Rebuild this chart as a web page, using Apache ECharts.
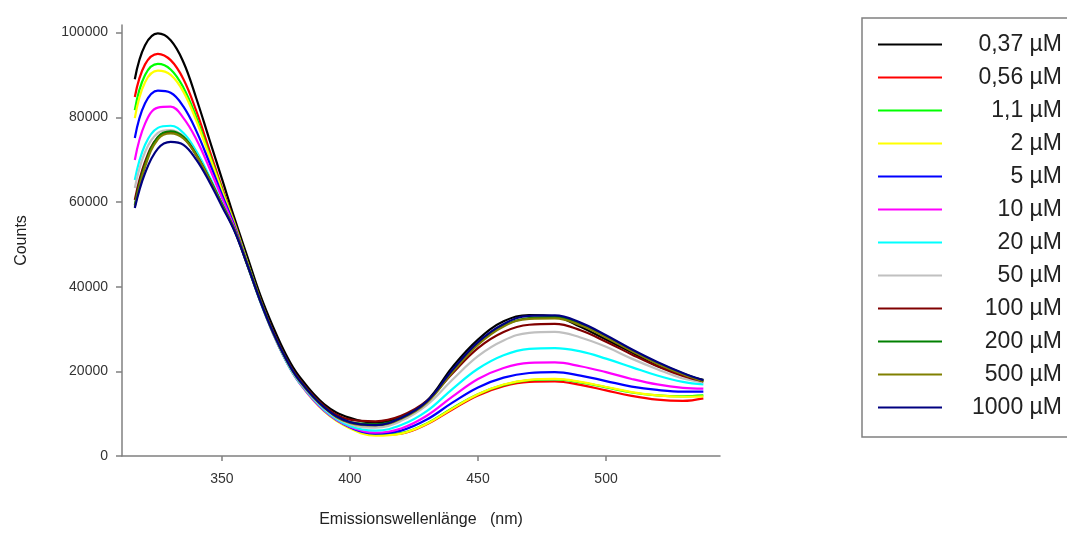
<!DOCTYPE html>
<html>
<head>
<meta charset="utf-8">
<script src="https://cdn.jsdelivr.net/npm/echarts@6/dist/echarts.min.js"></script>
<style>
  html, body { margin: 0; padding: 0; background: #fff; }
  #chart { width: 1067px; height: 533px; }
</style>
</head>
<body>
<div id="chart"></div>
<script>
// Emission spectra, counts per wavelength (nm) for each concentration
const wavelengths = [316, 320, 325, 330, 335, 340, 345, 350, 355, 360, 365, 370, 375, 380, 390, 400, 410, 420, 430, 440, 450, 460, 470, 480, 490, 500, 510, 520, 530, 538];

const names = ["0,37 µM", "0,56 µM", "1,1 µM", "2 µM", "5 µM", "10 µM", "20 µM", "50 µM", "100 µM", "200 µM", "500 µM", "1000 µM"];
const colors = ["#000000", "#ff0000", "#00ff00", "#ffff00", "#0000ff", "#ff00ff", "#00ffff", "#c0c0c0", "#800000", "#008000", "#808000", "#000080"];

const c037 = [89000, 97000, 99800, 98200, 93000, 84500, 75000, 65500, 56000, 47000, 38000, 30500, 24000, 19000, 12200, 9000, 7900, 9200, 13000, 21000, 27500, 31800, 33300, 33000, 30500, 27500, 24500, 21300, 19200, 18000];
const c056 = [84800, 92500, 95000, 93500, 89000, 81500, 72500, 63500, 55000, 45800, 37000, 29300, 22800, 17800, 10800, 6800, 5000, 5300, 7500, 11000, 14300, 16500, 17500, 17600, 16800, 15500, 14200, 13300, 13000, 13600];
const c11 = [81700, 90000, 92600, 91300, 87000, 80000, 71500, 63000, 54800, 45700, 36900, 29200, 22700, 17700, 10700, 6700, 5000, 5400, 7700, 11300, 14600, 16800, 17900, 18100, 17400, 16200, 15000, 14300, 14100, 14300];
const c2 = [79800, 88300, 91000, 90000, 86000, 79200, 71000, 62700, 54600, 45500, 36700, 29000, 22500, 17500, 10500, 6500, 4800, 5300, 7600, 11200, 14600, 16900, 18000, 18200, 17500, 16300, 15100, 14300, 14000, 14100];
const c5 = [75100, 83300, 86300, 85800, 82500, 76800, 69500, 61800, 54200, 45300, 36600, 29000, 22600, 17600, 10700, 6800, 5300, 6000, 8600, 12600, 16200, 18500, 19600, 19800, 19000, 17700, 16400, 15600, 15200, 15200];
const c10 = [69900, 78500, 82300, 82500, 79800, 74800, 68200, 61000, 53800, 45100, 36500, 28900, 22500, 17500, 10700, 6900, 5500, 6500, 9500, 14000, 18200, 20800, 22000, 22100, 21200, 19800, 18200, 16900, 16100, 15900];
const c20 = [65200, 73500, 77500, 78000, 76300, 72000, 66200, 59800, 53300, 44900, 36400, 28900, 22500, 17600, 10900, 7100, 6000, 7300, 10600, 15800, 20600, 23800, 25300, 25500, 24700, 23000, 21000, 19000, 17500, 16900];
const c50 = [63300, 71800, 76300, 77000, 75500, 71300, 65700, 59500, 53200, 44900, 36500, 29000, 22700, 17800, 11200, 7500, 6700, 8300, 12000, 18000, 23600, 27300, 29100, 29300, 28000, 25800, 23000, 20500, 18300, 17400];
const c100 = [60500, 69500, 75300, 76500, 75200, 71100, 65600, 59500, 53300, 45100, 36800, 29400, 23200, 18300, 11800, 8600, 8200, 9500, 13000, 19500, 25500, 29300, 31000, 31200, 29700, 27000, 24000, 21200, 18900, 17600];
const c200 = [59300, 68800, 75300, 76700, 75400, 71200, 65700, 59500, 53300, 45100, 36700, 29200, 23000, 18100, 11500, 8000, 7500, 9000, 12800, 20000, 26500, 30800, 32600, 32800, 31200, 28200, 25000, 22000, 19500, 17800];
const c500 = [58900, 68300, 74800, 76200, 75000, 71000, 65500, 59300, 53200, 45000, 36600, 29100, 22900, 18000, 11400, 7800, 7200, 8800, 12600, 19800, 26300, 30600, 32400, 32500, 30900, 28000, 24800, 21800, 19300, 17600];
const c1000 = [58600, 66800, 72600, 74200, 73500, 70000, 64900, 59000, 53000, 45000, 36600, 29200, 23000, 18100, 11500, 8000, 7300, 9000, 12900, 20300, 26900, 31200, 33100, 33200, 31500, 28500, 25200, 22200, 19600, 17900];

const allSeries = [c037, c056, c11, c2, c5, c10, c20, c50, c100, c200, c500, c1000];

const xTicks = [350, 400, 450, 500];
const yTicks = [0, 20000, 40000, 60000, 80000, 100000];

const FONT = "'Liberation Sans', Arial, sans-serif";

const chart = echarts.init(document.getElementById("chart"), null, { renderer: "canvas" });

const series = allSeries.map((vals, i) => ({
  name: names[i],
  type: "line",
  smooth: 0.4,
  symbol: "none",
  color: colors[i],
  lineStyle: { width: 2.2, color: colors[i] },
  data: vals.map((v, j) => [wavelengths[j], v]),
}));

chart.setOption({
  animation: false,
  backgroundColor: "#fff",
  grid: { left: 122, right: 347, top: 25, bottom: 76 },
  xAxis: {
    type: "value",
    min: 311,
    max: 544.5,
    name: "Emissionswellenlänge   (nm)",
    nameLocation: "middle",
    nameGap: 56,
    nameTextStyle: { fontFamily: FONT, fontSize: 16, color: "#222" },
    axisLine: { lineStyle: { color: "#808080", width: 1.5 } },
    axisTick: { show: true, length: 5, customValues: xTicks, lineStyle: { color: "#808080", width: 1.5 } },
    axisLabel: { customValues: xTicks, margin: 16, fontFamily: FONT, fontSize: 14, color: "#333" },
    splitLine: { show: false },
  },
  yAxis: {
    type: "value",
    min: 0,
    max: 101800,
    name: "Counts",
    nameLocation: "middle",
    nameRotate: 90,
    nameGap: 92,
    nameTextStyle: { fontFamily: FONT, fontSize: 16, color: "#222" },
    axisLine: { show: true, lineStyle: { color: "#808080", width: 1.5 } },
    axisTick: { show: true, length: 6, customValues: yTicks, lineStyle: { color: "#808080", width: 1.5 } },
    axisLabel: { customValues: yTicks, formatter: v => String(v), margin: 14, fontFamily: FONT, fontSize: 14, color: "#333" },
    splitLine: { show: false },
  },
  legend: {
    orient: "vertical",
    left: 862,
    top: 18,
    padding: [15, 40, 18, 16],
    icon: "rect",
    itemWidth: 64,
    itemHeight: 2.2,
    itemGap: 10,
    borderColor: "#808080",
    borderWidth: 1.5,
    data: names,
    formatter: name => "{a|" + name + "}",
    textStyle: {
      rich: {
        a: { width: 115, align: "right", fontFamily: FONT, fontSize: 23, lineHeight: 24, color: "#222" },
      },
    },
  },
  series,
});
</script>
</body>
</html>
